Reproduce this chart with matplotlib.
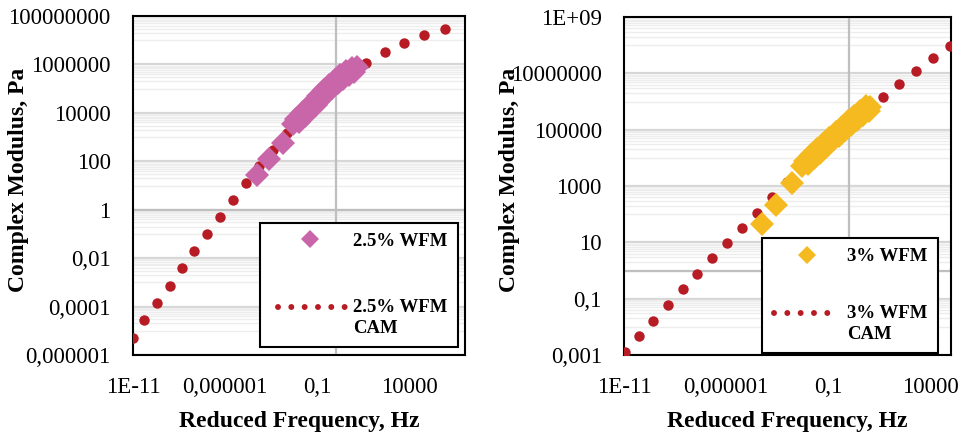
import numpy as np
import matplotlib
matplotlib.use('Agg')
import matplotlib.pyplot as plt
from matplotlib.lines import Line2D
from matplotlib.legend_handler import HandlerLine2D
from matplotlib.ticker import FixedLocator, NullFormatter, NullLocator

SERIF = ['Liberation Serif', 'DejaVu Serif']
plt.rcParams['font.family'] = SERIF

# ---------------- data (log10 values) ----------------
# 2.5% WFM measured data: log10(reduced frequency, Hz), log10(|G*|, Pa)
wfm25_logf = [-4.29, -3.61, -2.88, -2.30, -2.15, -2.00, -1.85, -1.70, -1.55, -1.40,
              -1.25, -1.10, -0.95, -0.80, -0.65, -0.50, -0.35, -0.20, -0.05, 0.10,
              0.25, 0.40, 0.55, 0.70, 0.85, 1.00, 1.13]
wfm25_logG = [1.43, 2.08, 2.77, 3.52, 3.75, 3.63, 3.99, 3.86, 4.22, 4.10,
              4.46, 4.34, 4.70, 4.58, 4.94, 4.81, 5.16, 5.03, 5.37, 5.22,
              5.55, 5.40, 5.72, 5.56, 5.87, 5.70, 5.88]
# 2.5% WFM CAM model
cam25_logf = [-11.02, -10.40, -9.70, -9.01, -8.35, -7.68, -6.99, -6.30, -5.56, -4.87,
              -4.15, -3.39, -2.66, -1.85, -1.00, -0.12, 0.76, 1.64, 2.64, 3.70, 4.78, 5.90]
cam25_logG = [-5.29, -4.56, -3.85, -3.14, -2.42, -1.71, -0.99, -0.29, 0.40, 1.12,
              1.82, 2.48, 3.15, 3.85, 4.48, 5.15, 5.66, 6.07, 6.53, 6.90, 7.22, 7.45]

# 3% WFM measured data
wfm3_logf = [-4.26, -3.56, -2.80, -2.30, -2.15, -2.00, -1.85, -1.70, -1.55, -1.40,
             -1.25, -1.10, -0.95, -0.80, -0.65, -0.50, -0.35, -0.20, -0.05, 0.10,
             0.25, 0.40, 0.55, 0.70, 0.85, 1.00, 1.05]
wfm3_logG = [1.65, 2.31, 3.10, 3.70, 3.90, 3.78, 4.10, 3.98, 4.30, 4.18,
             4.50, 4.38, 4.70, 4.58, 4.90, 4.78, 5.10, 4.98, 5.30, 5.18,
             5.49, 5.36, 5.67, 5.53, 5.83, 5.68, 5.82]
# 3% WFM CAM model
cam3_logf = [-10.95, -10.25, -9.57, -8.83, -8.13, -7.41, -6.69, -5.98, -5.21, -4.51,
             -3.77, -3.04, -2.39, -1.60, -0.80, 0.03, 0.85, 1.66, 2.47, 3.29, 4.10, 4.95]
cam3_logG = [-2.88, -2.32, -1.78, -1.22, -0.67, -0.11, 0.43, 0.97, 1.52, 2.05,
             2.60, 3.13, 3.69, 4.21, 4.69, 5.22, 5.72, 6.17, 6.62, 7.09, 7.56, 7.98]

labels_left = ['2.5% WFM', '2.5% WFM\nCAM']
labels_right = ['3% WFM', '3% WFM\nCAM']

x_ticks = [1e-11, 1e-6, 1e-1, 1e4]
x_ticklabels = ['1E-11', '0,000001', '0,1', '10000']
yL_ticks = [1e-6, 1e-4, 1e-2, 1, 1e2, 1e4, 1e6, 1e8]
yL_ticklabels = ['0,000001', '0,0001', '0,01', '1', '100', '10000', '1000000', '100000000']
yR_ticks = [1e-3, 1e-1, 1e1, 1e3, 1e5, 1e7, 1e9]
yR_ticklabels = ['0,001', '0,1', '10', '1000', '100000', '10000000', '1E+09']

xlabel = 'Reduced Frequency, Hz'
ylabel = 'Complex Modulus, Pa'

# ---------------- styles ----------------
RED = '#B71C24'
PINK = '#C965A9'
GOLD = '#F5BA20'
TICK_FS = 16.5
LABEL_FS = 17
LEG_FS = 13.5
PX = 72 / 100  # points per pixel


class OffsetHandler(HandlerLine2D):
    """Legend handle with an offset (points) and optional left trim."""
    def __init__(self, dx=0.0, dy=0.0, trim=0.0, **kw):
        super().__init__(**kw)
        self.dx, self.dy, self.trim = dx, dy, trim

    def create_artists(self, legend, orig_handle, xdescent, ydescent, width,
                       height, fontsize, trans):
        arts = super().create_artists(legend, orig_handle, xdescent, ydescent,
                                      width, height, fontsize, trans)
        for a in arts:
            x = np.asarray(a.get_xdata(), dtype=float)
            if self.trim:
                x = np.linspace(x[0] + self.trim, x[-1], len(x))
            a.set_xdata(x + self.dx)
            a.set_ydata(np.asarray(a.get_ydata(), dtype=float) + self.dy)
        return arts


fig = plt.figure(figsize=(9.7, 4.37), dpi=100)
axL = fig.add_axes([133 / 970, 1 - 355 / 437, 332 / 970, 339 / 437])
axR = fig.add_axes([624 / 970, 1 - 355 / 437, 327 / 970, 338 / 437])


def setup(ax, xlim, ylim, yticks, yticklabels, minor_exps):
    ax.set_xscale('log')
    ax.set_yscale('log')
    ax.set_xlim(*xlim)
    ax.set_ylim(*ylim)
    ax.xaxis.set_major_locator(FixedLocator(x_ticks))
    ax.set_xticklabels(x_ticklabels)
    ax.xaxis.set_minor_locator(NullLocator())
    ax.yaxis.set_major_locator(FixedLocator(yticks))
    ax.set_yticklabels(yticklabels)
    minors = [m * 10.0 ** e for e in minor_exps for m in range(1, 10)]
    ax.yaxis.set_minor_locator(FixedLocator(minors))
    ax.yaxis.set_minor_formatter(NullFormatter())
    ax.tick_params(which='both', length=0)
    ax.tick_params(axis='x', labelsize=TICK_FS, pad=15.5)
    ax.tick_params(axis='y', labelsize=TICK_FS, pad=16)
    ax.grid(which='minor', axis='y', color='#EDEDED', lw=1.0, zorder=0)
    ax.grid(which='major', axis='y', color='#D6D6D6', lw=1.6, zorder=0)
    ax.set_axisbelow(True)
    ax.axhline(1, color='#BFBFBF', lw=1.6, zorder=1)
    ax.axvline(1, color='#BFBFBF', lw=1.6, zorder=1)
    for s in ax.spines.values():
        s.set_color('black')
        s.set_linewidth(1.5)
    ax.set_xlabel(xlabel, fontsize=LABEL_FS, fontweight='bold')
    ax.set_ylabel(ylabel, fontsize=LABEL_FS, fontweight='bold')
    ax.xaxis.label.set_va('baseline')
    ax.yaxis.label.set_va('center')


setup(axL, (1e-11, 1e7), (1e-6, 1e8), yL_ticks, yL_ticklabels, [-5, -3, -1, 1, 3, 5, 7])
setup(axR, (1e-11, 1e5), (1e-3, 1e9), yR_ticks, yR_ticklabels, [-2, 0, 2, 4, 6, 8])
axL.xaxis.set_label_coords(0.5, -(427 - 355) / 339)
axR.xaxis.set_label_coords(0.5, -(427 - 355) / 338)
axL.yaxis.set_label_coords(-(133 - 18) / 332, (355 - 180) / 339)
axR.yaxis.set_label_coords(-(624 - 510) / 327, (355 - 180) / 338)

WFM_MS = 12.0


def draw(ax, cam_f, cam_G, wfm_f, wfm_G, color, labels, anchor, lspacing, bpad,
         hlen, hpad, trim, ddx):
    ax.plot(10 ** np.asarray(cam_f), 10 ** np.asarray(cam_G), 'o', ms=7.5,
            color=RED, mew=0, zorder=3)
    wfm, = ax.plot(10 ** np.asarray(wfm_f), 10 ** np.asarray(wfm_G), 'D', ms=WFM_MS,
                   color=color, mew=0, ls='none', zorder=4)
    proxy = Line2D([], [], color=RED, lw=4.3, linestyle=(0, (0.001, 2.23)),
                   dash_capstyle='round')
    leg = ax.legend(handles=[wfm, proxy], labels=labels, loc='lower right',
                    bbox_to_anchor=anchor, borderaxespad=0,
                    prop=dict(family=SERIF, weight='bold', size=LEG_FS),
                    frameon=True, fancybox=False, edgecolor='black', framealpha=1,
                    handlelength=hlen, handletextpad=hpad, borderpad=bpad,
                    labelspacing=lspacing, markerscale=9.4 / WFM_MS,
                    handler_map={wfm: OffsetHandler(dx=ddx),
                                 proxy: OffsetHandler(dy=7.6, trim=trim)})
    leg.get_frame().set_linewidth(1.5)
    leg.get_texts()[1].set_linespacing(1.3)
    leg.set_zorder(5)


draw(axL, cam25_logf, cam25_logG, wfm25_logf, wfm25_logG, PINK, labels_left,
     (0.979, 0.0236), 48.8 * PX / LEG_FS, 0.55, 75 * PX / LEG_FS, 8 * PX / LEG_FS,
     8 * PX, 2.0 * PX)
draw(axR, cam3_logf, cam3_logG, wfm3_logf, wfm3_logG, GOLD, labels_right,
     (0.960, 0.006), 39.3 * PX / LEG_FS, 0.55, 68 * PX / LEG_FS, 7 * PX / LEG_FS,
     1.5 * PX, 1 * PX)

fig.savefig('out.png', dpi=100)
